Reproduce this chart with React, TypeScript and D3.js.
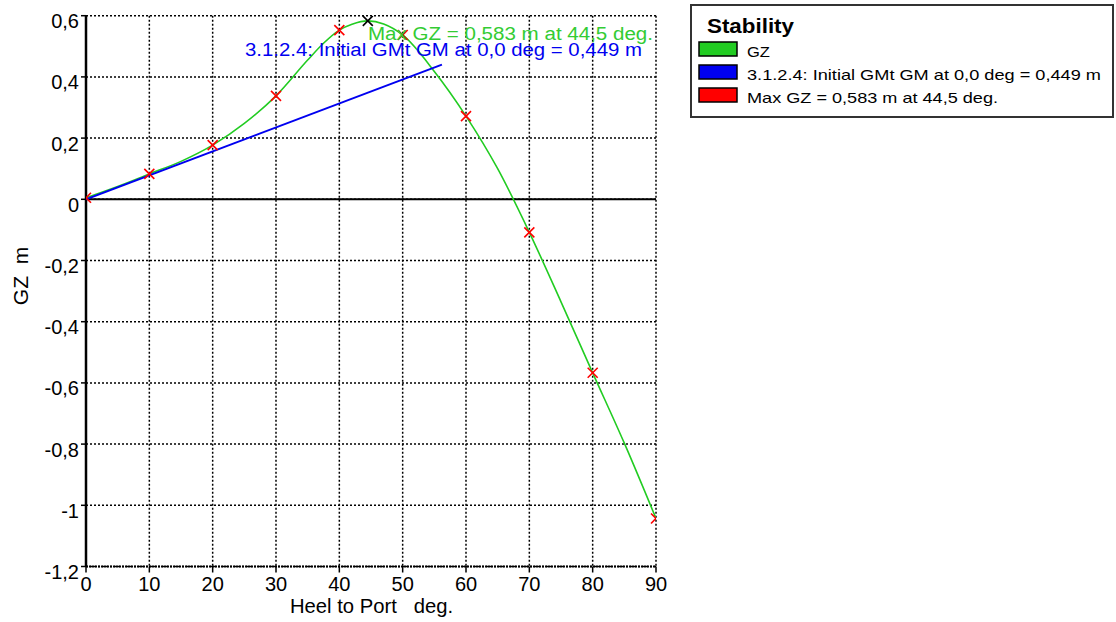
import React from "react";
import * as d3 from "d3";

const gzAngles = [0, 5, 10, 15, 20, 25, 30, 35, 37.5, 40, 42, 44.5, 47, 50, 55, 60, 65, 70, 75, 80, 85, 90];
const gzValues = [0.005, 0.042, 0.083, 0.124, 0.177, 0.248, 0.338, 0.455, 0.51, 0.553, 0.572, 0.583, 0.573, 0.537, 0.418, 0.272, 0.1, -0.108, -0.335, -0.567, -0.797, -1.043];

const markAngles = [0, 10, 20, 30, 40, 50, 60, 70, 80, 90];
const markValues = [0.005, 0.083, 0.177, 0.338, 0.553, 0.537, 0.272, -0.108, -0.567, -1.043];

const gmAngles = [0, 56.2];
const gmValues = [0, 0.44];

const maxAngle = 44.5;
const maxValue = 0.583;

const xTicks = [0, 10, 20, 30, 40, 50, 60, 70, 80, 90];
const yTicks = [-1.2, -1, -0.8, -0.6, -0.4, -0.2, 0, 0.2, 0.4, 0.6];

const legendLabels = ["GZ", "3.1.2.4: Initial GMt GM at 0,0 deg = 0,449 m", "Max GZ = 0,583 m at 44,5 deg."];
const legendWidths = [23, 354, 251];
const legendColors = ["#22cc22", "#0000f0", "#ff0000"];

const FONT = "'Liberation Sans', Arial, sans-serif";

function fmt(v: number) {
  const s = d3.format("~g")(Math.round(v * 10) / 10);
  return s.replace(".", ",").replace("−", "-");
}

export default function App() {
  const x = d3.scaleLinear().domain([0, 90]).range([86, 656]);
  const y = d3.scaleLinear().domain([-1.2, 0.6]).range([566.5, 15.7]);
  const line = d3
    .line<number>()
    .x((_, i) => x(gzAngles[i]))
    .y((d) => y(d))
    .curve(d3.curveMonotoneX);
  const gzPath = line(gzValues) || "";
  const [x0, x1] = x.range();
  const [yb, yt] = y.range();
  const cs = 5;
  const cross = (cx: number, cy: number, color: string, key: string) => (
    <g key={key} stroke={color} strokeWidth={1.6}>
      <line x1={cx - cs} y1={cy - cs} x2={cx + cs} y2={cy + cs} />
      <line x1={cx - cs} y1={cy + cs} x2={cx + cs} y2={cy - cs} />
    </g>
  );
  return (
    <svg width={1116} height={622} style={{ position: "absolute", left: 0, top: 0, background: "#fff" }} fontFamily={FONT}>
      <defs>
        <clipPath id="plotclip">
          <rect x={x0} y={yt} width={x1 - x0} height={yb - yt} />
        </clipPath>
      </defs>
      <rect x={0} y={0} width={1116} height={622} fill="#fff" />
      {/* grid */}
      {yTicks.map((t) => (
        <line key={"gy" + t} x1={x0} x2={x1} y1={y(t)} y2={y(t)} stroke="#000" strokeWidth={1.5} strokeDasharray="2 2" />
      ))}
      {xTicks.map((t) => (
        <line key={"gx" + t} x1={x(t)} x2={x(t)} y1={yt} y2={yb} stroke="#000" strokeWidth={1.5} strokeDasharray="2 2" />
      ))}
      {/* axes */}
      <line x1={x0} x2={x1} y1={y(0)} y2={y(0)} stroke="#000" strokeWidth={2} />
      <line x1={x0} x2={x1} y1={yb} y2={yb} stroke="#000" strokeWidth={2} strokeDasharray="2 1" />
      <line x1={x0} x2={x0} y1={yt} y2={yb} stroke="#000" strokeWidth={2.5} />
      {yTicks.map((t) => (
        <line key={"ty" + t} x1={x0 - 5} x2={x0} y1={y(t)} y2={y(t)} stroke="#000" strokeWidth={1.5} />
      ))}
      {xTicks.map((t) => (
        <line key={"tx" + t} x1={x(t)} x2={x(t)} y1={yb} y2={yb + 6} stroke="#000" strokeWidth={1.5} />
      ))}
      {yTicks.map((t) => (
        <text key={"ly" + t} x={x0 - 7} y={y(t) + 12.5} textAnchor="end" fontSize={20} fill="#000">
          {fmt(t)}
        </text>
      ))}
      {xTicks.map((t) => (
        <text key={"lx" + t} x={x(t)} y={591} textAnchor="middle" fontSize={20} fill="#000">
          {fmt(t)}
        </text>
      ))}
      <text x={290} y={613} fontSize={19.5} fill="#000" textLength={163} lengthAdjust="spacingAndGlyphs" style={{ whiteSpace: "pre" }}>
        {"Heel to Port   deg."}
      </text>
      <text transform="translate(28,276) rotate(-90)" textAnchor="middle" fontSize={21} fill="#000" style={{ whiteSpace: "pre" }}>
        {"GZ  m"}
      </text>
      {/* series */}
      <g clipPath="url(#plotclip)">
        <path d={gzPath} fill="none" stroke="#22cc22" strokeWidth={1.6} />
        <line x1={x(gmAngles[0])} y1={y(gmValues[0])} x2={x(gmAngles[1])} y2={y(gmValues[1])} stroke="#0000f0" strokeWidth={2} />
        {markAngles.map((a, i) => cross(x(a), y(markValues[i]), "#ff0000", "m" + a))}
        {cross(x(maxAngle), y(maxValue), "#000", "max")}
      </g>
      <text x={653} y={39.5} textAnchor="end" fontSize={18} fill="#33cc33" textLength={285} lengthAdjust="spacingAndGlyphs">
        {"Max GZ = 0,583 m at 44,5 deg."}
      </text>
      <text x={642} y={56} textAnchor="end" fontSize={18} fill="#0000f0" textLength={397} lengthAdjust="spacingAndGlyphs">
        {"3.1.2.4: Initial GMt GM at 0,0 deg = 0,449 m"}
      </text>
      {/* legend */}
      <rect x={691} y={5} width={422} height={112} fill="#fff" stroke="#333" strokeWidth={2} />
      <text x={707} y={33} fontSize={20} fontWeight="bold" fill="#000" textLength={87} lengthAdjust="spacingAndGlyphs">
        Stability
      </text>
      {legendLabels.map((l, i) => (
        <g key={"lg" + i}>
          <rect x={699} y={42 + i * 23} width={38} height={14} fill={legendColors[i]} stroke="#000" strokeWidth={1.5} />
          <text x={747} y={56.5 + i * 23} fontSize={15} fill="#000" textLength={legendWidths[i]} lengthAdjust="spacingAndGlyphs">
            {l}
          </text>
        </g>
      ))}
    </svg>
  );
}
